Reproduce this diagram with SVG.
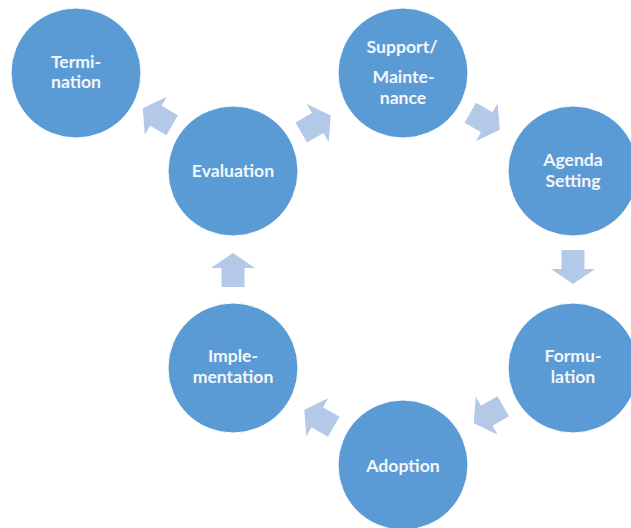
<svg xmlns="http://www.w3.org/2000/svg" width="631" height="528" viewBox="0 0 631 528">
<style>
.node circle{fill:#5B9BD5;stroke:#FFFFFF;stroke-width:1}
.node text{font-family:Lato,"Liberation Sans",sans-serif;font-weight:700;font-size:17.6px;fill:#F4F6FA;text-anchor:middle}
.arr{fill:#B4C8E7}
</style>
<defs>
<polygon id="ar" points="-17,-11.5 2,-11.5 2,-22 17,0 2,22 2,11.5 -17,11.5"/>
</defs>
<rect width="631" height="528" fill="#FFFFFF"/>
<g id="connectors">
<use href="#ar" class="arr" transform="translate(157.5,116.7) rotate(-150)"/>
<use href="#ar" class="arr" transform="translate(316,124) rotate(-30)"/>
<use href="#ar" class="arr" transform="translate(485,121.3) rotate(30)"/>
<use href="#ar" class="arr" transform="translate(573,267) rotate(90)"/>
<use href="#ar" class="arr" transform="translate(488.5,414.8) rotate(150)"/>
<use href="#ar" class="arr" transform="translate(319,418.3) rotate(-150)"/>
<use href="#ar" class="arr" transform="translate(233,270) rotate(-90)"/>
</g>
<g id="termination" class="node">
<circle cx="76" cy="73" r="65"/>
<text x="76" y="67.7">Termi-</text>
<text x="76" y="88.3">nation</text>
</g>
<g id="support" class="node">
<circle cx="403" cy="73" r="65"/>
<text x="402" y="52.7">Support/</text>
<text x="403.5" y="83.3">Mainte-</text>
<text x="403" y="104">nance</text>
</g>
<g id="agenda" class="node">
<circle cx="573" cy="171" r="65"/>
<text x="573" y="165.7">Agenda</text>
<text x="573" y="186.7">Setting</text>
</g>
<g id="formulation" class="node">
<circle cx="573" cy="368" r="65"/>
<text x="573" y="361.7">Formu-</text>
<text x="573" y="383.3">lation</text>
</g>
<g id="adoption" class="node">
<circle cx="403" cy="465" r="65"/>
<text x="403" y="471.7">Adoption</text>
</g>
<g id="implementation" class="node">
<circle cx="233" cy="368" r="65"/>
<text x="233" y="361.7">Imple-</text>
<text x="233" y="383.3">mentation</text>
</g>
<g id="evaluation" class="node">
<circle cx="233" cy="171" r="65"/>
<text x="233" y="176.7">Evaluation</text>
</g>
</svg>
